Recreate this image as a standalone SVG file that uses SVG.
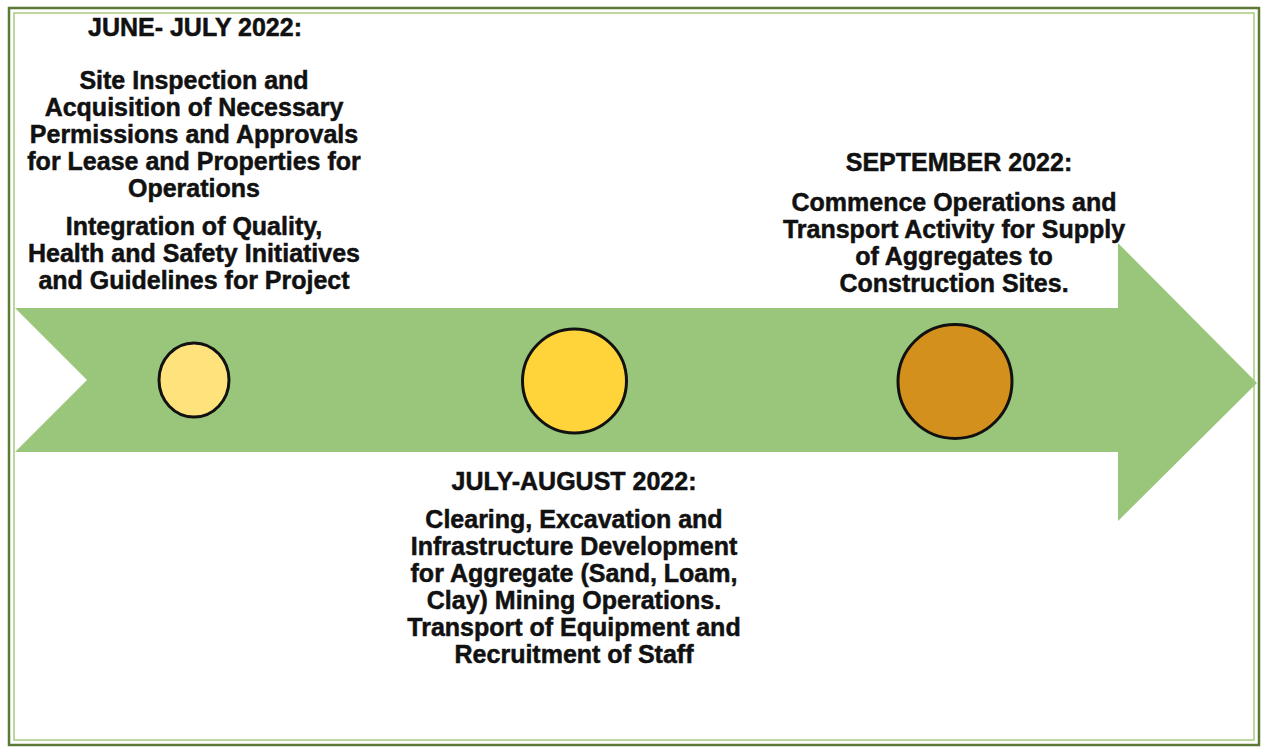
<svg xmlns="http://www.w3.org/2000/svg" width="1263" height="747" viewBox="0 0 1263 747">
<style>
.t{font-family:"Liberation Sans",Arial,sans-serif;font-weight:bold;font-size:25px;fill:#111;text-anchor:middle;stroke:#111;stroke-width:0.5px}
.c{stroke:#111;stroke-width:3}
</style>
<rect x="0" y="0" width="1263" height="747" fill="#fff"/>
<g id="frame" fill="none">
<rect x="9" y="8" width="1250" height="737" stroke="#5b7a35" stroke-width="2.5"/>
<rect x="14" y="13" width="1240" height="727" stroke="#a8cc80" stroke-width="1.5"/>
</g>
<g id="arrow">
<polygon points="15,308 1118,308 1118,243 1257,383 1118,521 1118,452 15,452 87,380" fill="#99c67b"/>
</g>
<g id="node1">
<ellipse class="c" cx="194" cy="380" rx="35" ry="37" fill="#fee27c"/>
<text class="t" x="195" y="36">JUNE- JULY 2022:</text>
<text class="t" x="194" y="89">Site Inspection and</text>
<text class="t" x="194" y="116">Acquisition of Necessary</text>
<text class="t" x="194" y="143">Permissions and Approvals</text>
<text class="t" x="194" y="170">for Lease and Properties for</text>
<text class="t" x="194" y="197">Operations</text>
<text class="t" x="194" y="235">Integration of Quality,</text>
<text class="t" x="194" y="262">Health and Safety Initiatives</text>
<text class="t" x="194" y="289">and Guidelines for Project</text>
</g>
<g id="node2">
<ellipse class="c" cx="574.5" cy="381" rx="52" ry="52" fill="#fed43a"/>
<text class="t" x="574" y="490">JULY-AUGUST 2022:</text>
<text class="t" x="574" y="528">Clearing, Excavation and</text>
<text class="t" x="574" y="555">Infrastructure Development</text>
<text class="t" x="574" y="582">for Aggregate (Sand, Loam,</text>
<text class="t" x="574" y="609">Clay) Mining Operations.</text>
<text class="t" x="574" y="636">Transport of Equipment and</text>
<text class="t" x="574" y="663">Recruitment of Staff</text>
</g>
<g id="node3">
<ellipse class="c" cx="955" cy="381.5" rx="57" ry="57" fill="#d4901c"/>
<text class="t" x="959" y="171">SEPTEMBER 2022:</text>
<text class="t" x="954" y="211">Commence Operations and</text>
<text class="t" x="954" y="238">Transport Activity for Supply</text>
<text class="t" x="954" y="265">of Aggregates to</text>
<text class="t" x="954" y="292">Construction Sites.</text>
</g>
<g id="connectors"></g>
</svg>
